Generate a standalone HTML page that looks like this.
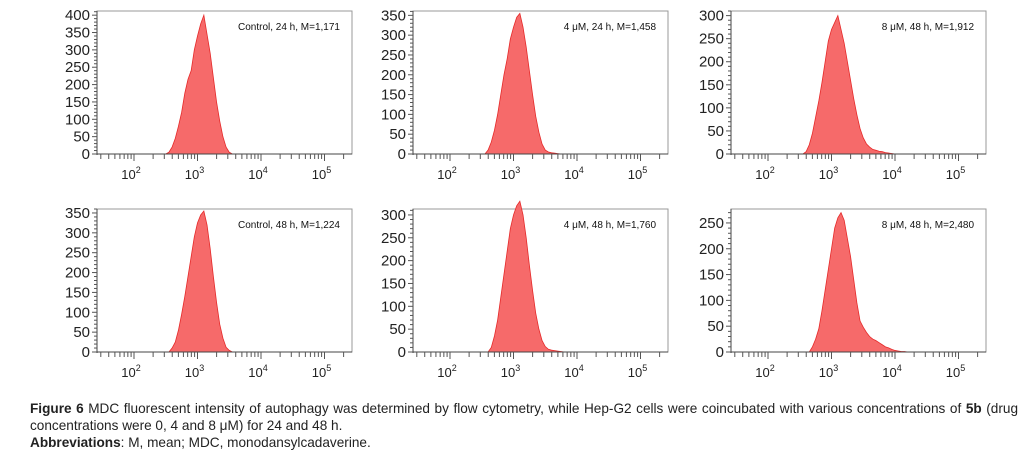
<!DOCTYPE html>
<html><head><meta charset="utf-8"><style>
body{margin:0;width:1022px;height:457px;background:#fff;overflow:hidden;font-family:"Liberation Sans",sans-serif}
#cap{position:absolute;left:30px;top:400px;font-size:13.6px;line-height:17px;color:#222;width:988px;text-align:justify}
</style></head><body>
<svg id="chart" width="1022" height="395" style="position:absolute;left:0;top:0"></svg>
<div id="cap"><b>Figure 6</b> MDC fluorescent intensity of autophagy was determined by flow cytometry, while Hep-G2 cells were coincubated with various concentrations of <b>5b</b> (drug concentrations were 0, 4 and 8 μM) for 24 and 48 h.<br><b>Abbreviations</b>: M, mean; MDC, monodansylcadaverine.</div>
<script>
const binLogs=[2.50,2.55,2.60,2.65,2.70,2.75,2.80,2.85,2.90,2.95,3.00,3.05,3.10,3.15,3.20,3.25,3.30,3.35,3.40,3.45,3.50,3.55,3.60,3.65,3.70,3.75,3.80,3.85,3.90,3.95,4.00,4.05,4.10,4.15,4.20,4.25,4.30,4.35,4.40,4.45,4.50];
const counts1=[0,5,20,45,80,120,175,215,240,300,340,375,400,345,290,220,150,95,50,20,5,0,0,0,0,0,0,0,0,0,0,0,0,0,0,0,0,0,0,0,0];
const counts2=[0,0,10,30,60,100,150,200,240,290,320,345,355,320,270,210,150,95,55,25,10,5,3,2,1,0,0,0,0,0,0,0,0,0,0,0,0,0,0,0,0];
const counts3=[0,0,5,20,45,80,115,155,200,245,270,285,300,270,240,200,160,120,85,55,35,22,15,10,8,6,5,3,2,1,0,0,0,0,0,0,0,0,0,0,0];
const counts4=[0,0,10,25,55,95,140,190,240,290,325,345,355,320,260,190,125,70,35,12,4,0,0,0,0,0,0,0,0,0,0,0,0,0,0,0,0,0,0,0,0];
const counts5=[0,0,0,10,35,70,120,170,220,270,300,320,330,300,250,190,135,85,50,25,12,6,4,3,2,1,0,0,0,0,0,0,0,0,0,0,0,0,0,0,0];
const counts6=[0,0,0,0,10,25,45,80,120,160,200,240,260,270,255,220,185,140,95,60,48,38,30,25,22,18,14,10,8,5,3,2,1,1,0,0,0,0,0,0,0];
const labels=["Control, 24 h, M=1,171","4 μM, 24 h, M=1,458","8 μM, 48 h, M=1,912","Control, 48 h, M=1,224","4 μM, 48 h, M=1,760","8 μM, 48 h, M=2,480"];
const yMaxes=[412,361,310,360,313,277];
const yTicks=[[0,50,100,150,200,250,300,350,400],[0,50,100,150,200,250,300,350],[0,50,100,150,200,250,300],[0,50,100,150,200,250,300,350],[0,50,100,150,200,250,300],[0,50,100,150,200,250]];
const xTickExps=[2,3,4,5];
const allCounts=[counts1,counts2,counts3,counts4,counts5,counts6];

const NS="http://www.w3.org/2000/svg";
const svg=document.getElementById('chart');
function mk(t,a,p){const e=document.createElementNS(NS,t);for(const k in a)e.setAttribute(k,a[k]);(p||svg).appendChild(e);return e;}
const colL=[97,413,731], rowT=[11,209], W=255, H=143, dec=63.5, logL=2-37/dec;
allCounts.forEach((cs,i)=>{
  const L=colL[i%3], T=rowT[Math.floor(i/3)], B=T+H;
  const g=mk('g',{});
  
  
  const xs=v=>L+(v-logL)*dec, ys=v=>B-v/yMaxes[i]*H;
  mk('rect',{x:L,y:T,width:W,height:H,fill:'none',stroke:'#999','stroke-width':1},g);
  let d='M'+xs(binLogs[0])+','+B;
  cs.forEach((c,j)=>{d+=' L'+xs(binLogs[j])+','+ys(c);});
  d+=' L'+xs(binLogs[binLogs.length-1])+','+B+' Z';
  const h=mk('path',{d:d,fill:'#f66a6a',stroke:'#e52a2a','stroke-width':0.8},g);
  
  
  mk('line',{x1:L,y1:T,x2:L,y2:B+1,stroke:'#444'},g);
  mk('line',{x1:L,y1:B,x2:L+W,y2:B,stroke:'#444'},g);
  for(let v=0;v<=yMaxes[i];v+=10){const y=ys(v);mk('line',{x1:L-(v%50?3:5),y1:y,x2:L,y2:y,stroke:'#555'},g);}
  yTicks[i].forEach(v=>{const t=mk('text',{x:L-7,y:ys(v)+5,'text-anchor':'end','font-size':15,fill:'#222'},g);t.textContent=v;
    });
  for(let e=1;e<=5;e++)for(let m=1;m<=9;m++){const lv=e+Math.log10(m);if(lv<logL||lv>logL+W/dec)continue;const x=xs(lv);
    mk('line',{x1:x,y1:B,x2:x,y2:B+(m==1?7:5),stroke:'#555'},g);}
  xTickExps.forEach(e=>{const t=mk('text',{x:xs(e)-3,y:B+25,'text-anchor':'middle','font-size':13,fill:'#222'},g);
    t.innerHTML='10<tspan dy="-6" font-size="9">'+e+'</tspan>';
    });
  const a=mk('text',{x:L+W-12,y:T+19,'text-anchor':'end','font-size':10,fill:'#111'},g);a.textContent=labels[i];
  
});
</script>
</body></html>
